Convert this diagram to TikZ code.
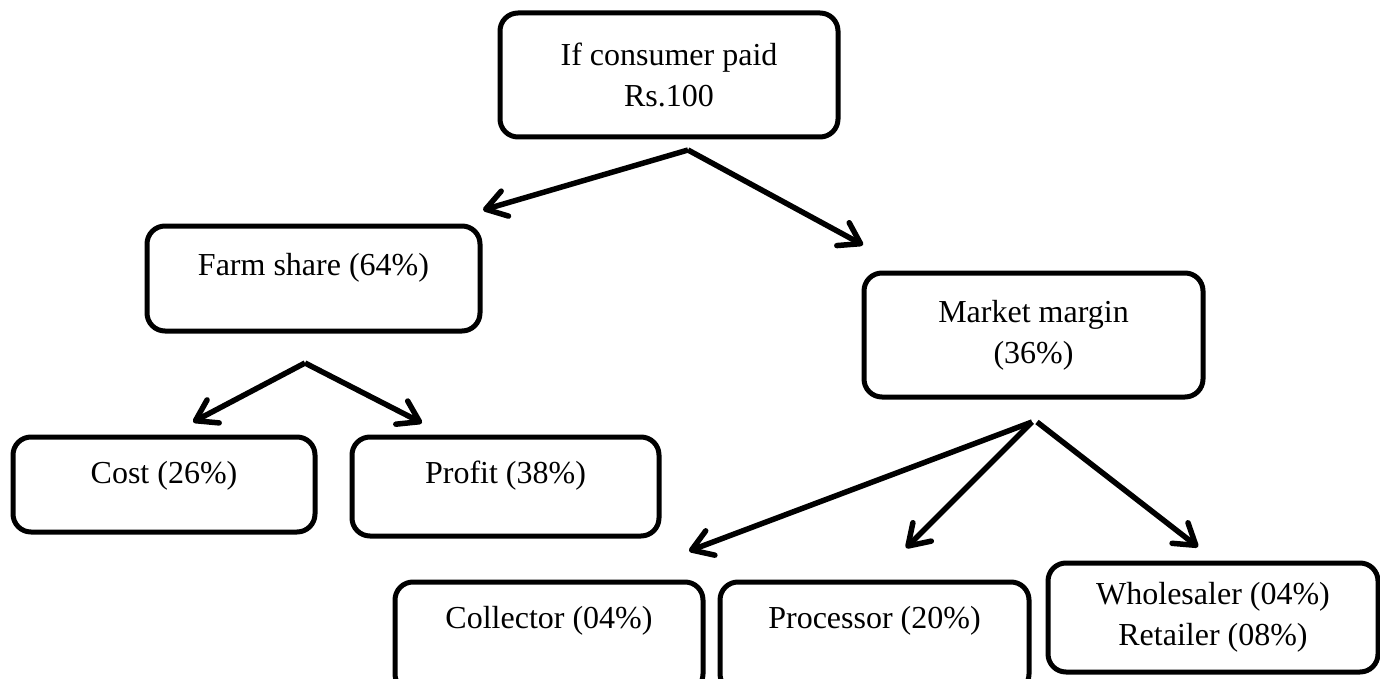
\documentclass[tikz,border=0pt]{standalone}
\usepackage{fontspec}
\setmainfont{Liberation Serif}
\usetikzlibrary{arrows.meta}

\begin{document}
\begin{tikzpicture}[
    x=1pt, y=-1pt,
    font=\fontsize{32}{41}\selectfont,
    box/.style={
        draw,
        line width=5pt,
        rounded corners=18pt,
        anchor=north west,
        outer sep=0pt,
        inner sep=0pt,
        align=center
    },
    onebox/.style={box, text height=22pt},
    share/.style={line width=5.5pt, -{Straight Barb[length=20pt, width=26pt, round]}}
]
\useasboundingbox (0,0) rectangle (1380,679);

% top of the tree
\node[box, minimum width=338pt, minimum height=124pt] (consumer) at (500,13) {If consumer paid\\Rs.100};

% first split
\node[onebox, minimum width=333pt, minimum height=105pt, text depth=29pt] (farm) at (147,226) {Farm share (64\%)};
\node[box, minimum width=339pt, minimum height=124pt] (market) at (864,273) {Market margin\\(36\%)};

% farm share parts
\node[onebox, minimum width=302pt, minimum height=95pt, text depth=25pt] (cost) at (13,437) {Cost (26\%)};
\node[onebox, minimum width=307pt, minimum height=99pt, text depth=29pt] (profit) at (352,437) {Profit (38\%)};

% market margin parts
\node[onebox, minimum width=308pt, minimum height=110pt, text depth=40pt] (collector) at (395,582) {Collector (04\%)};
\node[onebox, minimum width=309pt, minimum height=110pt, text depth=40pt] (processor) at (720,582) {Processor (20\%)};
\node[box, minimum width=330pt, minimum height=109pt] (retail) at (1048,563) {Wholesaler (04\%)\\Retailer (08\%)};

% arrow ends
\coordinate (topfork) at (688,150);
\coordinate (farmtip) at (483,210);
\coordinate (markettip) at (863,245);
\coordinate (farmfork) at (305,363);
\coordinate (costtip) at (193,422);
\coordinate (profittip) at (422,423);
\coordinate (marketfork) at (1032,422);
\coordinate (marketfork2) at (1037,422);
\coordinate (collectortip) at (689,551);
\coordinate (processortip) at (906,548);
\coordinate (retailtip) at (1198,547);

% arrows
\draw[share] (topfork) -- (farmtip);
\draw[share] (topfork) -- (markettip);
\draw[share] (farmfork) -- (costtip);
\draw[share] (farmfork) -- (profittip);
\draw[share] (marketfork) -- (collectortip);
\draw[share] (marketfork) -- (processortip);
\draw[share] (marketfork2) -- (retailtip);

\end{tikzpicture}
\end{document}
